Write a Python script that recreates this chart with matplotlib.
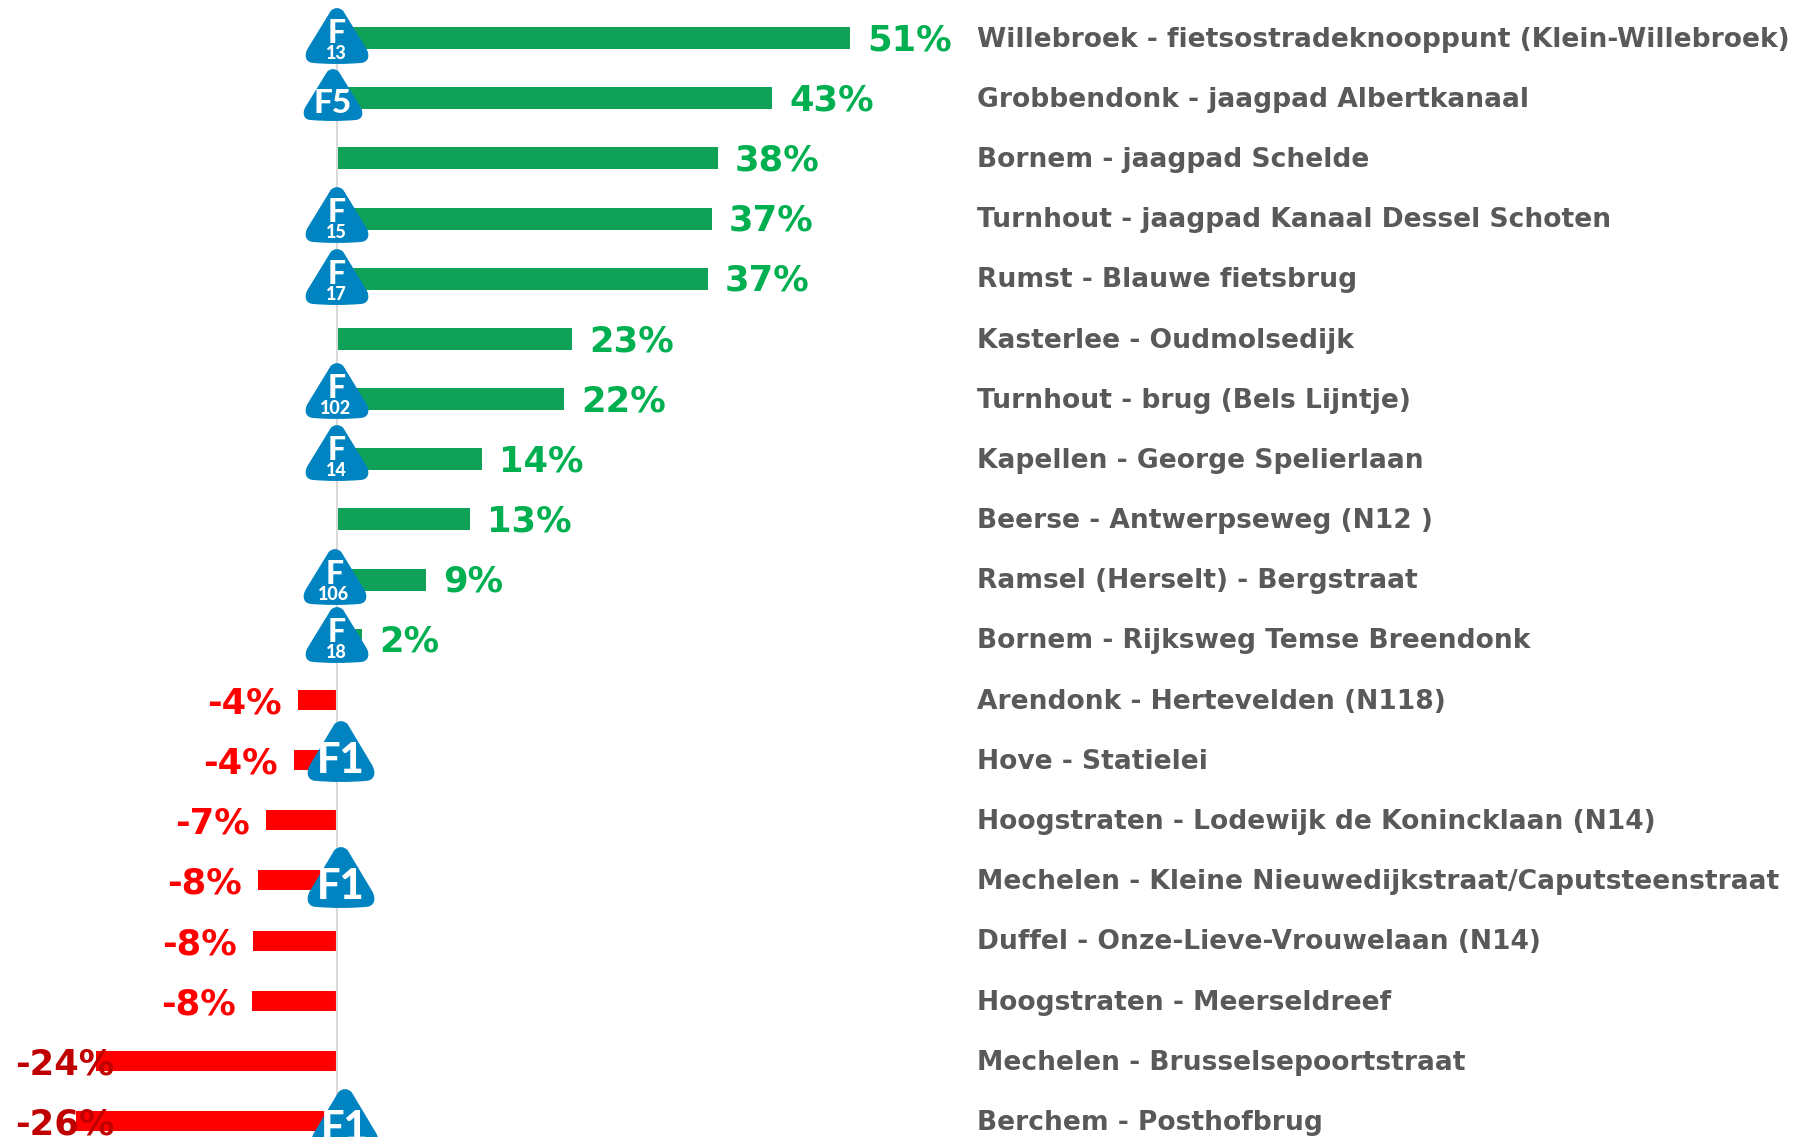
import matplotlib
matplotlib.use('Agg')
import matplotlib.pyplot as plt
from matplotlib.path import Path
from matplotlib.patches import PathPatch

W, H = 1802, 1137

# meetpunten, van hoog naar laag
places = [
    'Willebroek - fietsostradeknooppunt (Klein-Willebroek)',
    'Grobbendonk - jaagpad Albertkanaal',
    'Bornem - jaagpad Schelde',
    'Turnhout - jaagpad Kanaal Dessel Schoten',
    'Rumst - Blauwe fietsbrug',
    'Kasterlee - Oudmolsedijk',
    'Turnhout - brug (Bels Lijntje)',
    'Kapellen - George Spelierlaan',
    'Beerse - Antwerpseweg (N12 )',
    'Ramsel (Herselt) - Bergstraat',
    'Bornem - Rijksweg Temse Breendonk',
    'Arendonk - Hertevelden (N118)',
    'Hove - Statielei',
    'Hoogstraten - Lodewijk de Konincklaan (N14)',
    'Mechelen - Kleine Nieuwedijkstraat/Caputsteenstraat',
    'Duffel - Onze-Lieve-Vrouwelaan (N14)',
    'Hoogstraten - Meerseldreef',
    'Mechelen - Brusselsepoortstraat',
    'Berchem - Posthofbrug',
]
values = [51.3, 43.5, 38.1, 37.5, 37.1, 23.5, 22.7, 14.5, 13.3, 8.9, 2.5,
          -3.9, -4.3, -7.1, -7.9, -8.4, -8.5, -24.1, -26.1]
labels = ['51%', '43%', '38%', '37%', '37%', '23%', '22%', '14%', '13%', '9%', '2%',
          '-4%', '-4%', '-7%', '-8%', '-8%', '-8%', '-24%', '-26%']

# fietssnelweg borden: nummer, midden x, bovenkant (pixels)
badge_numbers = ['13', '5', '15', '17', '102', '14', '106', '18', '1', '1', '1']
badge_x = [337, 333, 337, 337, 337, 337, 335, 337, 341, 341, 345]
badge_top = [8, 69, 187, 249, 363, 425, 549, 607, 721, 847, 1089]

plt.rcParams['font.family'] = ['DejaVu Sans']

fig = plt.figure(figsize=(W / 100, H / 100), dpi=100)
ax = fig.add_axes([0, 0, 1, 1])
row_h = 60.17
ax.set_xlim(-33.7, (W - 337) / 10)
ax.set_ylim((H - 38) / row_h, -38 / row_h)
ax.axis('off')

rows = list(range(len(values)))
for r, v in zip(rows, values):
    if v >= 0:
        ax.barh(r, v, height=22 / row_h, color='#0FA157', zorder=1)
    else:
        ax.barh(r, v, height=20 / row_h, color='#FF0000', zorder=1)

ax.plot([0, 0], [-0.4, 18], color='#D9D9D9', lw=1.5, zorder=2, solid_capstyle='butt')

for r, v, lab, place in zip(rows, values, labels, places):
    if v >= 0:
        ax.text(v + 1.7, r - 0.02, lab, color='#00B050', fontsize=25.5, fontweight='bold',
                ha='left', va='center_baseline', zorder=3)
    elif v < -20:
        # te lang: label staat tegen de linkerrand, over de balk
        ax.text(-32.2, r, lab, color='#C00000', fontsize=25.5, fontweight='bold',
                ha='left', va='center_baseline', zorder=3)
    else:
        ax.text(v - 1.6, r, lab, color='#FF0000', fontsize=25.5, fontweight='bold',
                ha='right', va='center_baseline', zorder=3)
    ax.text(64, r - 0.02, place, color='#595959', fontsize=19.1, fontweight='bold',
            ha='left', va='center_baseline', zorder=3)

# bovenlaag in pixels voor de borden
top = fig.add_axes([0, 0, 1, 1], zorder=5)
top.set_xlim(0, W)
top.set_ylim(H, 0)
top.axis('off')
top.patch.set_alpha(0)


def badge(cx, y0, number):
    if number == '1':
        bw, bh = 66, 61
    elif number == '5':
        bw, bh = 58, 52
    else:
        bw, bh = 62, 56
    pts = [(.40, .05), (.50, -.05), (.60, .05), (.97, .72),
           (1.03, .83), (1.02, .96), (.90, .98),
           (.50, 1.02), (.10, .98),
           (-.02, .96), (-.03, .83), (.03, .72), (.40, .05)]
    codes = [Path.MOVETO, Path.CURVE3, Path.CURVE3, Path.LINETO,
             Path.CURVE4, Path.CURVE4, Path.CURVE4,
             Path.CURVE3, Path.CURVE3,
             Path.CURVE4, Path.CURVE4, Path.CURVE4, Path.CLOSEPOLY]
    x0 = cx - bw / 2
    verts = [(x0 + px * bw, y0 + py * bh) for px, py in pts]
    top.add_patch(PathPatch(Path(verts, codes), fc='#0084C1', ec='none'))
    if number == '1':
        top.text(cx, y0 + 52, 'F1', color='white', fontsize=30, fontweight=900,
                 family='Lato', ha='center', va='baseline')
    elif number == '5':
        top.text(cx, y0 + 44, 'F5', color='white', fontsize=24, fontweight=900,
                 family='Lato', ha='center', va='baseline')
    else:
        top.text(cx, y0 + 35, 'F', color='white', fontsize=23, fontweight=900,
                 family='Lato', ha='center', va='baseline')
        top.text(cx - 1, y0 + 51, number, color='white', fontsize=13, fontweight=900,
                 family='Lato', ha='center', va='baseline')


for num, cx, y0 in zip(badge_numbers, badge_x, badge_top):
    badge(cx, y0, num)

fig.savefig('out.png', dpi=100)
